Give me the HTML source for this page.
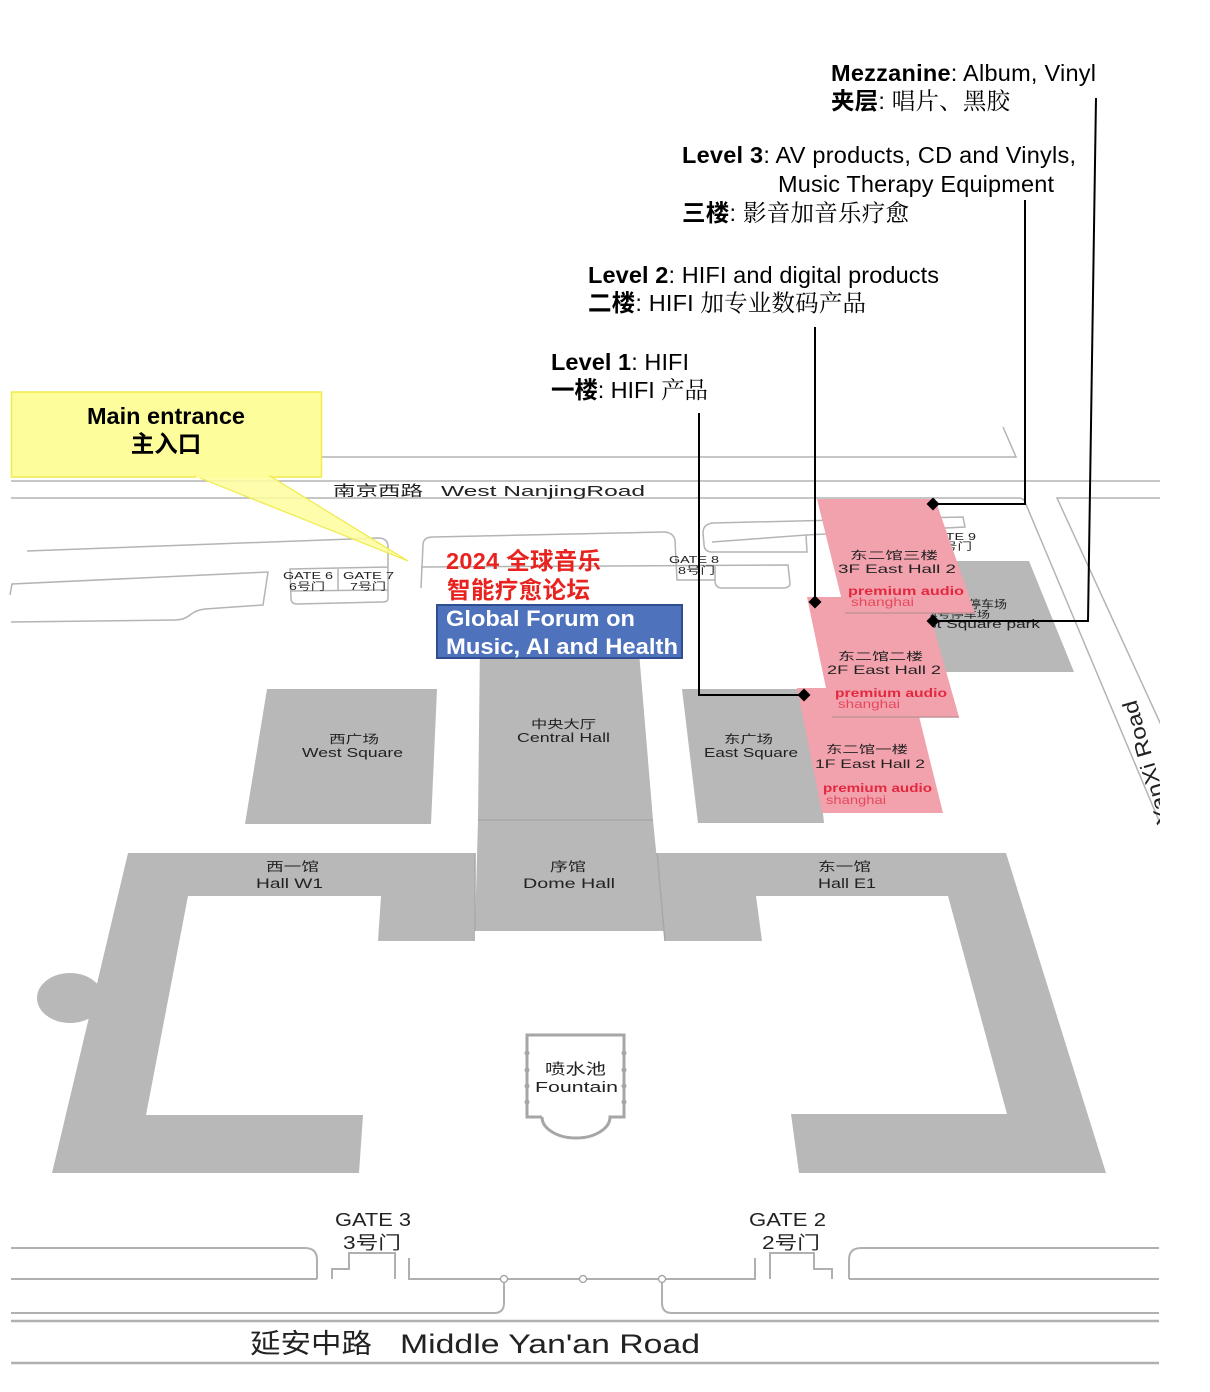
<!DOCTYPE html>
<html><head><meta charset="utf-8"><style>
html,body{margin:0;padding:0;background:#fff;width:1210px;height:1392px;overflow:hidden}
svg{display:block}
</style></head><body>
<svg width="1210" height="1392" viewBox="0 0 1210 1392" xmlns="http://www.w3.org/2000/svg" font-family="'Liberation Sans','Noto Sans CJK SC',sans-serif">
<rect width="1210" height="1392" fill="#fff"/>
<defs><clipPath id="c"><rect x="0" y="0" width="1160" height="1392"/></clipPath></defs>

<g clip-path="url(#c)">
<!-- top roads -->
<g fill="none" stroke="#b4b4b4" stroke-width="1.5">
<path d="M11 457 L1016 457 L1003 427"/>
<path d="M11 481 L1160 481"/>
<path d="M11 498 L1020 498 Q1024 499 1025 502 L1162 828"/>
<path d="M1162 498 L1057 498 L1162 727"/>
<!-- left outlines -->
<path d="M27 551 L378 538 Q388 538 388 547 L388 598 Q388 602 383 602 L297 604 Q291 604 291 598 L290 569 L388 567"/>
<path d="M338 569 L338 591 M290 591 L388 590"/>
<path d="M10 595 L12 584 L268 572 L263 605 L205 609 Q196 610 190 615 Q184 620 175 620 L11 622"/>
<!-- center plaza -->
<path d="M421 588 L423 545 Q423 537 433 537 L663 532 Q673 532 675 540 L677 580 L715 580"/>
<path d="M421 567 L788 565 L790 583 Q790 588 783 588 L722 588 Q716 588 715 582 L715 566"/>
<path d="M712 552 Q704 552 704 544 L703 533 Q703 524 713 523 L963 517 L965 527 L806 535"/>
<path d="M712 542 L806 535 L807 552 L712 552"/>
</g>

<!-- gray halls -->
<g fill="#b8b8b8">
<polygon points="267,689 437,689 431,824 245,824"/>
<polygon points="480,640 638,640 653,820 664,931 475,931 478,820"/>
<polygon points="682,689 810,689 824,823 698,823"/>
<polygon points="905,561 1029,561 1074,672 905,672"/>
<polygon points="128,853 475,853 475,941 378,941 381,896 188,896 146,1115 363,1115 359,1173 52,1173"/>
<ellipse cx="70" cy="998" rx="33" ry="25"/>
<polygon points="657,853 1006,853 1106,1173 799,1173 791,1114 1007,1114 948,896 756,896 762,941 665,941"/>
</g>
<g stroke="#a8a8a8" stroke-width="1.5" fill="none">
<path d="M478 820 L653 820"/>
<path d="M475 853 L475 931 M657 853 L665 941"/>
</g>

<!-- fountain -->
<g fill="none" stroke="#a6a6a6" stroke-width="3">
<path d="M542 1117 L527 1117 L527 1035 L624 1035 L624 1117 L610 1117 A34 21 0 0 1 542 1117"/>
</g>
<g fill="#a6a6a6">
<circle cx="527" cy="1053" r="2.5"/><circle cx="527" cy="1070" r="2.5"/><circle cx="527" cy="1086" r="2.5"/><circle cx="527" cy="1102" r="2.5"/>
<circle cx="624" cy="1053" r="2.5"/><circle cx="624" cy="1070" r="2.5"/><circle cx="624" cy="1086" r="2.5"/><circle cx="624" cy="1102" r="2.5"/>
</g>

<!-- map labels -->
<g fill="#222" font-size="12.5">
<text x="329" y="743" textLength="50" font-size="11.5" lengthAdjust="spacingAndGlyphs">西广场</text>
<text x="302" y="757" textLength="101" lengthAdjust="spacingAndGlyphs">West Square</text>
<text x="531" y="728" textLength="65" font-size="11.5" lengthAdjust="spacingAndGlyphs">中央大厅</text>
<text x="517" y="742" textLength="93" lengthAdjust="spacingAndGlyphs">Central Hall</text>
<text x="724" y="743" textLength="49" font-size="11.5" lengthAdjust="spacingAndGlyphs">东广场</text>
<text x="704" y="757" textLength="94" lengthAdjust="spacingAndGlyphs">East Square</text>
<text x="266" y="871" textLength="53" font-size="12.5" lengthAdjust="spacingAndGlyphs">西一馆</text>
<text x="256" y="888" textLength="67" font-size="13.5" lengthAdjust="spacingAndGlyphs">Hall W1</text>
<text x="550" y="871" textLength="36" font-size="12.5" lengthAdjust="spacingAndGlyphs">序馆</text>
<text x="523" y="888" textLength="92" font-size="13.5" lengthAdjust="spacingAndGlyphs">Dome Hall</text>
<text x="818" y="871" textLength="53" font-size="12.5" lengthAdjust="spacingAndGlyphs">东一馆</text>
<text x="818" y="888" textLength="58" font-size="13.5" lengthAdjust="spacingAndGlyphs">Hall E1</text>
<text x="545" y="1074" textLength="61" font-size="15" lengthAdjust="spacingAndGlyphs">喷水池</text>
<text x="535" y="1092" textLength="83" font-size="15" lengthAdjust="spacingAndGlyphs">Fountain</text>
<!-- gates -->
<text x="283" y="579" textLength="50" font-size="10" lengthAdjust="spacingAndGlyphs">GATE 6</text>
<text x="289" y="590" textLength="36" font-size="10" lengthAdjust="spacingAndGlyphs">6号门</text>
<text x="343" y="579" textLength="51" font-size="10" lengthAdjust="spacingAndGlyphs">GATE 7</text>
<text x="350" y="590" textLength="36" font-size="10" lengthAdjust="spacingAndGlyphs">7号门</text>
<text x="669" y="563" textLength="50" font-size="10" lengthAdjust="spacingAndGlyphs">GATE 8</text>
<text x="678" y="574" textLength="37" font-size="10" lengthAdjust="spacingAndGlyphs">8号门</text>
<text x="926" y="540" textLength="50" font-size="10" lengthAdjust="spacingAndGlyphs">GATE 9</text>
<text x="935" y="550" textLength="37" font-size="10" lengthAdjust="spacingAndGlyphs">9号门</text>
<text x="929" y="608" textLength="78" font-size="11" lengthAdjust="spacingAndGlyphs">东广场停车场</text>
<text x="930" y="618" textLength="60" font-size="9.5" lengthAdjust="spacingAndGlyphs">4号停车场</text>
<text x="907" y="628" textLength="133" font-size="11.5" lengthAdjust="spacingAndGlyphs">East Square park</text>
<!-- road names -->
<text x="333" y="496" textLength="90" font-size="14.5" lengthAdjust="spacingAndGlyphs">南京西路</text>
<text x="441" y="496" textLength="204" font-size="14.5" lengthAdjust="spacingAndGlyphs">West NanjingRoad</text>
<text x="0" y="0" font-size="21" text-anchor="end" transform="translate(1136,699) rotate(-106)" textLength="128" lengthAdjust="spacingAndGlyphs">YanXi Road</text>
</g>

<!-- pink halls -->
<g fill="#f1a2ad">
<polygon points="797,688 912,688 943,813 822,813"/>
<polygon points="807,597 925,597 959,717 832,717"/>
<path d="M832 717 L959 717" stroke="#c4929a" stroke-width="1.5"/>
<polygon points="817,499 935,499 975,613 845,613"/>
<path d="M845 613 L975 613" stroke="#c4929a" stroke-width="1.5"/>
</g>
<g font-size="12">
<text x="850" y="559" fill="#222" font-size="11" textLength="88" lengthAdjust="spacingAndGlyphs">东二馆三楼</text>
<text x="838" y="573" fill="#222" textLength="118" lengthAdjust="spacingAndGlyphs">3F East Hall 2</text>
<text x="848" y="595" fill="#e3283f" font-weight="bold" textLength="116" lengthAdjust="spacingAndGlyphs">premium audio</text>
<text x="851" y="606" fill="#e5485b" textLength="63" lengthAdjust="spacingAndGlyphs">shanghai</text>
<text x="838" y="660" fill="#222" font-size="11" textLength="85" lengthAdjust="spacingAndGlyphs">东二馆二楼</text>
<text x="827" y="674" fill="#222" textLength="114" lengthAdjust="spacingAndGlyphs">2F East Hall 2</text>
<text x="835" y="697" fill="#e3283f" font-weight="bold" textLength="112" lengthAdjust="spacingAndGlyphs">premium audio</text>
<text x="838" y="708" fill="#e5485b" textLength="62" lengthAdjust="spacingAndGlyphs">shanghai</text>
<text x="826" y="753" fill="#222" font-size="11" textLength="82" lengthAdjust="spacingAndGlyphs">东二馆一楼</text>
<text x="815" y="768" fill="#222" textLength="110" lengthAdjust="spacingAndGlyphs">1F East Hall 2</text>
<text x="823" y="792" fill="#e3283f" font-weight="bold" textLength="109" lengthAdjust="spacingAndGlyphs">premium audio</text>
<text x="826" y="804" fill="#e5485b" textLength="60" lengthAdjust="spacingAndGlyphs">shanghai</text>
</g>

<!-- bottom roads -->
<g fill="none" stroke="#b0b0b0" stroke-width="2">
<path d="M11 1248 L305 1248 Q317 1248 317 1260 L317 1279"/>
<path d="M11 1279 L317 1279"/>
<path d="M332 1279 L332 1269 L349 1269 L349 1253 L395 1253 L395 1279"/>
<path d="M409 1258 L409 1279 L755 1279 L755 1258"/>
<path d="M770 1279 L770 1253 L814 1253 L814 1269 L832 1269 L832 1279"/>
<path d="M849 1279 L849 1260 Q849 1248 861 1248 L1159 1248"/>
<path d="M849 1279 L1159 1279"/>
<path d="M11 1313 L494 1313 Q504 1313 504 1303 L504 1283"/>
<path d="M662 1283 L662 1303 Q662 1313 672 1313 L1159 1313"/>
<path d="M11 1321 L1159 1321" stroke-width="2.5"/>
<path d="M11 1363 L1159 1363" stroke-width="2.5"/>
</g>
<g fill="#fff" stroke="#a0a0a0" stroke-width="1.3">
<circle cx="504" cy="1279" r="3.5"/><circle cx="583" cy="1279" r="3.5"/><circle cx="662" cy="1279" r="3.5"/>
</g>
<g fill="#222">
<text x="335" y="1226" font-size="18" textLength="76" lengthAdjust="spacingAndGlyphs">GATE 3</text>
<text x="343" y="1249" font-size="18" textLength="58" lengthAdjust="spacingAndGlyphs">3号门</text>
<text x="749" y="1226" font-size="18" textLength="77" lengthAdjust="spacingAndGlyphs">GATE 2</text>
<text x="762" y="1249" font-size="18" textLength="58" lengthAdjust="spacingAndGlyphs">2号门</text>
<text x="250" y="1353" font-size="27" textLength="122" lengthAdjust="spacingAndGlyphs">延安中路</text>
<text x="400" y="1353" font-size="27" textLength="300" lengthAdjust="spacingAndGlyphs">Middle Yan'an Road</text>
</g>
</g>

<!-- callout -->
<rect x="11.5" y="392" width="310" height="85" fill="#fdfd9c" stroke="#f0ea4c" stroke-width="1.5"/>
<polygon points="195,476 270,476 408,561" fill="#fdfd9c" fill-opacity="0.85" stroke="#f0ea4c" stroke-width="1.2"/>
<rect x="196" y="474" width="73" height="4" fill="#fdfd9c"/>
<g font-weight="bold" fill="#000" font-size="23.5" text-anchor="middle">
<text x="166" y="424">Main entrance</text>
<text x="166" y="452">主入口</text>
</g>

<!-- forum labels -->
<g font-weight="bold" font-size="23.5" fill="#e8231f">
<text x="446" y="569" textLength="155">2024 全球音乐</text>
<text x="447" y="598" textLength="143">智能疗愈论坛</text>
</g>
<rect x="437" y="605" width="245" height="53" fill="#4f72bd" stroke="#2f4e8f" stroke-width="2"/>
<g font-weight="bold" font-size="22.5" fill="#fff">
<text x="446" y="626" textLength="189" lengthAdjust="spacingAndGlyphs">Global Forum on</text>
<text x="446" y="654" textLength="232" lengthAdjust="spacingAndGlyphs">Music, AI and Health</text>
</g>

<!-- level labels -->
<g font-size="23.5" fill="#000">
<text x="831" y="81" textLength="265"><tspan font-weight="bold">Mezzanine</tspan>: Album, Vinyl</text>
<text x="831" y="109" textLength="179"><tspan font-weight="bold">夹层</tspan>: <tspan font-family="'Noto Serif CJK SC',serif">唱片、黑胶</tspan></text>
<text x="682" y="163" textLength="394"><tspan font-weight="bold">Level 3</tspan>: AV products, CD and Vinyls,</text>
<text x="778" y="192" textLength="276">Music Therapy Equipment</text>
<text x="682" y="221" textLength="227"><tspan font-weight="bold">三楼</tspan>: <tspan font-family="'Noto Serif CJK SC',serif">影音加音乐疗愈</tspan></text>
<text x="588" y="283" textLength="351"><tspan font-weight="bold">Level 2</tspan>: HIFI and digital products</text>
<text x="588" y="311" textLength="278"><tspan font-weight="bold">二楼</tspan>: HIFI <tspan font-family="'Noto Serif CJK SC',serif">加专业数码产品</tspan></text>
<text x="551" y="370" textLength="138"><tspan font-weight="bold">Level 1</tspan>: HIFI</text>
<text x="551" y="398" textLength="157"><tspan font-weight="bold">一楼</tspan>: HIFI <tspan font-family="'Noto Serif CJK SC',serif">产品</tspan></text>
</g>

<!-- leader lines -->
<g fill="none" stroke="#000" stroke-width="2">
<path d="M1096 98 L1088 621 L933 621"/>
<path d="M1025 200 L1025 504 L933 504"/>
<path d="M815 327 L815 602"/>
<path d="M699 413 L699 695 L804 695"/>
</g>
<g fill="#000">
<polygon points="933,497.5 939.5,504 933,510.5 926.5,504"/>
<polygon points="815,595.5 821.5,602 815,608.5 808.5,602"/>
<polygon points="933,614.5 939.5,621 933,627.5 926.5,621"/>
<polygon points="804,688.5 810.5,695 804,701.5 797.5,695"/>
</g>
</svg>
</body></html>
